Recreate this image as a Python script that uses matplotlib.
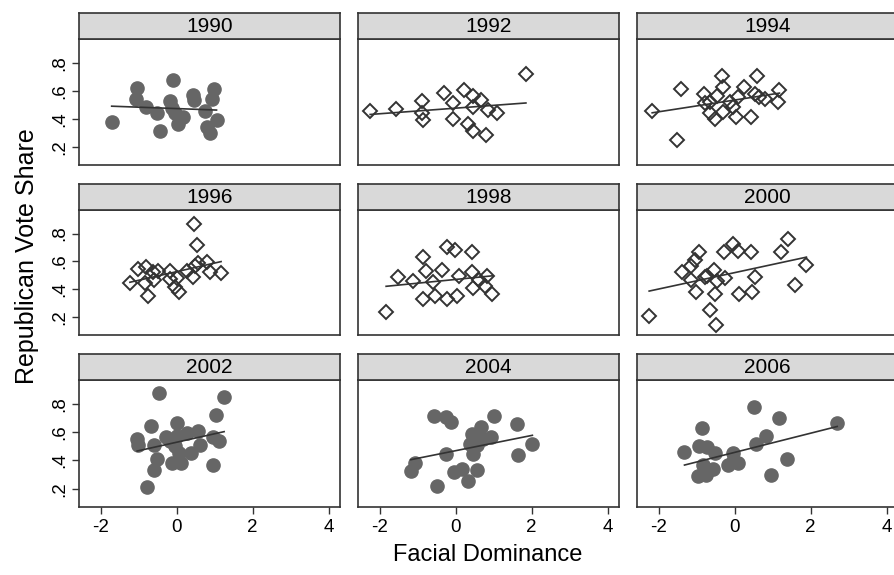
import numpy as np
import matplotlib.pyplot as plt

plt.rcParams['font.family'] = ['Liberation Sans', 'DejaVu Sans']
plt.rcParams['axes.unicode_minus'] = False

years = ['1990', '1992', '1994', '1996', '1998', '2000', '2002', '2004', '2006']
filled = [True, False, False, False, False, False, True, True, True]

# facial dominance (x) and republican vote share (y)
x1990 = [-1.71, -1.04, -1.07, -0.81, -0.53, -0.44, -0.09, -0.18, -0.11, -0.04,
         0.18, 0.04, 0.42, 0.46, 0.75, 0.99, 0.92, 1.05, 0.79, 0.89]
y1990 = [0.379, 0.617, 0.538, 0.486, 0.443, 0.314, 0.676, 0.526, 0.474, 0.438,
         0.41, 0.362, 0.569, 0.533, 0.455, 0.612, 0.538, 0.395, 0.343, 0.30]

x1992 = [-2.25, -1.56, -0.88, -0.89, -0.85, -0.30, -0.06, -0.08, 0.23, 0.46,
         0.45, 0.67, 0.86, 1.08, 0.33, 0.46, 0.79, 1.85]
y1992 = [0.455, 0.467, 0.526, 0.438, 0.39, 0.581, 0.514, 0.402, 0.605, 0.564,
         0.486, 0.533, 0.462, 0.438, 0.362, 0.312, 0.283, 0.717]

x1994 = [-2.17, -1.42, -1.53, -0.81, -0.34, -0.30, -0.46, -0.65, -0.78, -0.65,
         -0.52, -0.30, -0.04, 0.04, 0.10, 0.25, 0.42, 0.60, 0.54, 0.65,
         0.80, 1.18, 1.15, -0.12]
y1994 = [0.457, 0.61, 0.252, 0.576, 0.705, 0.624, 0.562, 0.521, 0.514, 0.438,
         0.402, 0.45, 0.486, 0.41, 0.557, 0.624, 0.414, 0.705, 0.574, 0.557,
         0.545, 0.605, 0.521, 0.52]

x1996 = [-1.23, -1.01, -0.81, -0.83, -0.76, -0.59, -0.61, -0.50, -0.18, -0.18,
         0.0, -0.04, 0.07, 0.26, 0.44, 0.48, 0.57, 0.79, 0.89, 1.17, 0.53, 0.46]
y1996 = [0.443, 0.545, 0.562, 0.443, 0.348, 0.467, 0.521, 0.533, 0.533, 0.474,
         0.481, 0.419, 0.379, 0.529, 0.486, 0.569, 0.586, 0.593, 0.521, 0.514,
         0.719, 0.871]

x1998 = [-1.83, -1.51, -1.13, -0.87, -0.78, -0.59, -0.87, -0.54, -0.37, -0.24,
         0.04, -0.22, -0.02, 0.09, 0.44, 0.44, 0.46, 0.62, 0.82, 0.77, 0.96]
y1998 = [0.236, 0.486, 0.462, 0.633, 0.533, 0.45, 0.331, 0.348, 0.538, 0.331,
         0.348, 0.705, 0.681, 0.498, 0.669, 0.521, 0.41, 0.467, 0.498, 0.426, 0.367]

x2000 = [-2.25, -1.39, -1.15, -1.15, -1.04, -0.93, -1.02, -0.78, -0.72, -0.54,
         -0.47, -0.52, -0.65, -0.50, -0.25, -0.28, -0.04, 0.10, 0.43, 0.12,
         0.47, 0.54, 1.21, 1.41, 1.59, 1.89]
y2000 = [0.205, 0.521, 0.467, 0.569, 0.61, 0.664, 0.379, 0.486, 0.498, 0.538,
         0.462, 0.367, 0.252, 0.145, 0.481, 0.664, 0.724, 0.676, 0.671, 0.362,
         0.379, 0.486, 0.669, 0.764, 0.433, 0.576]

x2002 = [-0.46, 1.25, 1.03, -0.68, 0.02, -1.04, -1.01, -0.60, -0.53, -0.59,
         -0.79, -0.28, -0.18, -0.13, 0.11, -0.04, 0.07, 0.26, 0.39, 0.55,
         0.61, 0.95, 1.12, 0.96, 0.0]
y2002 = [0.879, 0.848, 0.724, 0.645, 0.662, 0.555, 0.507, 0.51, 0.412, 0.331,
         0.212, 0.569, 0.538, 0.383, 0.379, 0.502, 0.455, 0.593, 0.45, 0.61,
         0.507, 0.569, 0.538, 0.367, 0.574]

x2004 = [-0.56, -0.25, -0.12, 1.0, 1.62, 0.68, 0.42, 0.55, 0.94, 0.72,
         0.38, 0.57, 2.02, 0.45, -0.25, 1.64, -1.07, -1.18, -0.04, 0.18,
         0.55, 0.33, -0.48]
y2004 = [0.712, 0.705, 0.669, 0.712, 0.657, 0.638, 0.586, 0.569, 0.569, 0.55,
         0.514, 0.507, 0.519, 0.443, 0.443, 0.436, 0.379, 0.324, 0.317, 0.34,
         0.331, 0.257, 0.217]

x2006 = [-1.32, -0.85, -0.93, -0.73, -0.53, -0.84, -0.97, -0.75, -0.57, -0.18,
         -0.04, -0.03, 0.09, 0.51, 1.17, 2.70, 0.82, 0.56, 1.37, 0.95]
y2006 = [0.462, 0.633, 0.502, 0.495, 0.45, 0.371, 0.288, 0.30, 0.336, 0.371,
         0.395, 0.45, 0.383, 0.781, 0.70, 0.664, 0.574, 0.514, 0.407, 0.30]

xs = [x1990, x1992, x1994, x1996, x1998, x2000, x2002, x2004, x2006]
ys = [y1990, y1992, y1994, y1996, y1998, y2000, y2002, y2004, y2006]

# fitted line (intercept, slope) per year as drawn in the figure
intercepts = [0.473, 0.476, 0.534, 0.526, 0.470, 0.519, 0.529, 0.469, 0.457]
slopes = [-0.010, 0.020, 0.042, 0.062, 0.027, 0.059, 0.060, 0.054, 0.068]

xticks = [-2, 0, 2, 4]
yticks = [0.2, 0.4, 0.6, 0.8]
yticklabels = ['.2', '.4', '.6', '.8']

W, H = 894, 575
fig = plt.figure(figsize=(W / 100, H / 100), dpi=100)

col_left = [79, 358, 637]
row_top = [39, 210, 380]
row_bot = [165, 335, 507]
pw = 261
strip_h = 26

for i, yr in enumerate(years):
    r, c = divmod(i, 3)
    left = col_left[c] / W
    bottom = 1 - row_bot[r] / H
    height = (row_bot[r] - row_top[r]) / H
    ax = fig.add_axes([left, bottom, pw / W, height])

    if filled[i]:
        ax.plot(xs[i], ys[i], 'o', ms=9.5, color='#666666', mec='#666666', zorder=3)
    else:
        ax.plot(xs[i], ys[i], 'D', ms=7.5, mfc='none', mec='#333333', mew=1.4, zorder=3)

    xx = np.array([min(xs[i]), max(xs[i])])
    ax.plot(xx, intercepts[i] + slopes[i] * xx, color='#333333', lw=1.2, zorder=4)

    ax.set_xlim(-2.57, 4.3)
    ax.set_ylim(0.07, 0.97)
    for s in ax.spines.values():
        s.set_color('#333333')
        s.set_linewidth(1.2)

    ax.set_xticks(xticks)
    ax.set_yticks(yticks)
    if r == 2:
        ax.tick_params(axis='x', length=5, width=1, color='#333333', labelsize=13.5, pad=4)
    else:
        ax.tick_params(axis='x', length=0, labelbottom=False)
    if c == 0:
        ax.set_yticklabels(yticklabels, rotation=90, va='center')
        ax.tick_params(axis='y', length=5, width=1, color='#333333', labelsize=13.5, pad=3)
    else:
        ax.tick_params(axis='y', length=0, labelleft=False)

    sax = fig.add_axes([left, 1 - (row_top[r]) / H, pw / W, strip_h / H])
    sax.set_facecolor('#d9d9d9')
    sax.set_xticks([])
    sax.set_yticks([])
    for s in sax.spines.values():
        s.set_color('#333333')
        s.set_linewidth(1.2)
    sax.text(0.5, 0.48, yr, ha='center', va='center', fontsize=15, transform=sax.transAxes)

fig.text(488 / W, 1 - 555 / H, 'Facial Dominance', ha='center', va='center', fontsize=17)
fig.text(27 / W, 1 - 256 / H, 'Republican Vote Share', ha='center', va='center',
         rotation=90, fontsize=18)

fig.savefig('out.png', dpi=100)
